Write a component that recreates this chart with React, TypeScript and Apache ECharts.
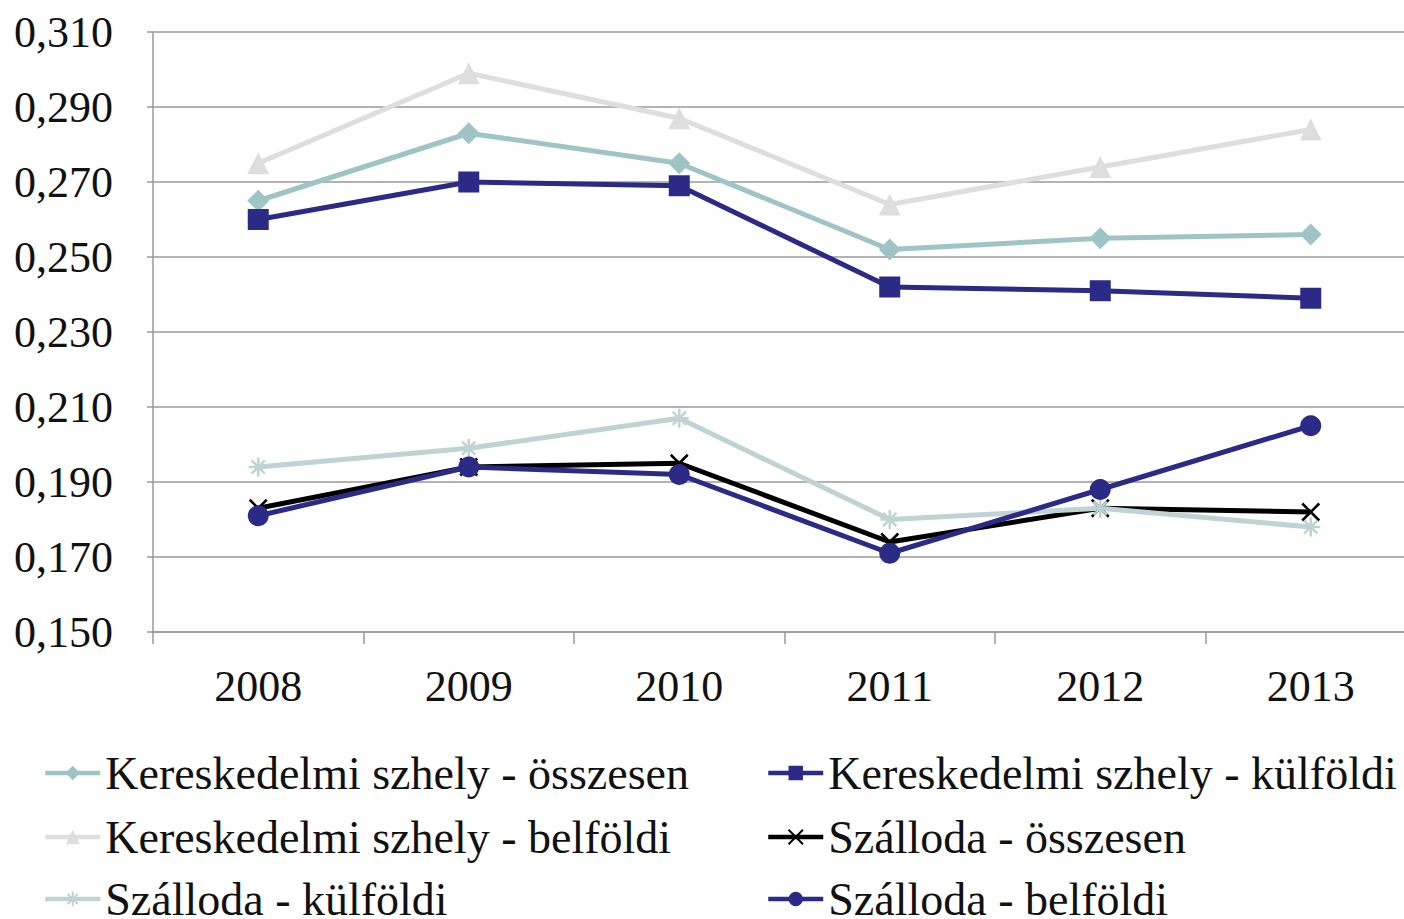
import React, { useEffect, useRef } from "react";
import * as echarts from "echarts";

const years = ["2008", "2009", "2010", "2011", "2012", "2013"];
const kerOsszesen = [0.265, 0.283, 0.275, 0.252, 0.255, 0.256];
const kerKulfoldi = [0.26, 0.27, 0.269, 0.242, 0.241, 0.239];
const kerBelfoldi = [0.275, 0.299, 0.287, 0.264, 0.274, 0.284];
const szalOsszesen = [0.183, 0.194, 0.195, 0.174, 0.183, 0.182];
const szalKulfoldi = [0.194, 0.199, 0.207, 0.18, 0.183, 0.178];
const szalBelfoldi = [0.181, 0.194, 0.192, 0.171, 0.188, 0.205];

const names = [
  "Kereskedelmi szhely - összesen",
  "Kereskedelmi szhely - külföldi",
  "Kereskedelmi szhely - belföldi",
  "Szálloda - összesen",
  "Szálloda - külföldi",
  "Szálloda - belföldi",
];

const FONT = "'Liberation Serif', 'DejaVu Serif', serif";
const CROSS = "path://M0,0 L10,10 M10,0 L0,10";
const STAR = "path://M5,0 L5,10 M0,5 L10,5 M1.5,1.5 L8.5,8.5 M8.5,1.5 L1.5,8.5";

export default function App() {
  const ref = useRef<HTMLDivElement>(null);
  useEffect(() => {
    if (!ref.current) return;
    const chart = echarts.init(ref.current, null, { renderer: "svg" });
    const lineSeries = (
      name: string,
      data: number[],
      color: string,
      symbol: string,
      symbolSize: number,
      stroke = false
    ) => ({
      name,
      type: "line",
      data,
      symbol,
      symbolSize,
      showSymbol: true,
      lineStyle: { color, width: 5 },
      itemStyle: stroke
        ? { color: "rgba(0,0,0,0)", borderColor: color, borderWidth: 2.5 }
        : { color, borderWidth: 0 },
      emphasis: { disabled: true },
    });
    const legendItem = (name: string, left: number, top: number) => ({
      orient: "horizontal",
      left,
      top,
      itemWidth: 55,
      itemHeight: 18,
      itemGap: 0,
      data: [name],
      lineStyle: { width: 4.5 },
      textStyle: { fontFamily: FONT, fontSize: 46, color: "#111", lineHeight: 46 },
      selectedMode: false,
    });
    chart.setOption({
      animation: false,
      backgroundColor: "#fff",
      grid: { left: 153, right: 4, top: 32, bottom: 287, containLabel: false },
      legend: [
        legendItem(names[0], 38, 745),
        legendItem(names[2], 38, 809),
        legendItem(names[4], 38, 871),
        legendItem(names[1], 761, 745),
        legendItem(names[3], 761, 809),
        legendItem(names[5], 761, 871),
      ],
      xAxis: {
        type: "category",
        data: years,
        boundaryGap: true,
        axisLine: { lineStyle: { color: "#9a9a9a", width: 1.5 } },
        axisTick: { show: true, length: 12, lineStyle: { color: "#9a9a9a", width: 1.5 } },
        axisLabel: { fontFamily: FONT, fontSize: 44, color: "#111", margin: 32 },
      },
      yAxis: {
        type: "value",
        min: 0.15,
        max: 0.31,
        interval: 0.02,
        axisLine: { show: true, lineStyle: { color: "#9a9a9a", width: 1.5 } },
        axisTick: { show: true, length: 6, lineStyle: { color: "#9a9a9a", width: 1.5 } },
        splitLine: { lineStyle: { color: "#9a9a9a", width: 1.5 } },
        axisLabel: {
          fontFamily: FONT,
          fontSize: 44,
          color: "#111",
          margin: 40,
          formatter: (v: number) => v.toFixed(3).replace(".", ","),
        },
      },
      series: [
        lineSeries(names[0], kerOsszesen, "#9fc4c6", "diamond", 22),
        lineSeries(names[1], kerKulfoldi, "#2b2a86", "rect", 21),
        lineSeries(names[2], kerBelfoldi, "#dedede", "triangle", 22),
        lineSeries(names[3], szalOsszesen, "#000000", CROSS, 17, true),
        lineSeries(names[4], szalKulfoldi, "#bfd3d4", STAR, 19, true),
        lineSeries(names[5], szalBelfoldi, "#2b2a86", "circle", 21),
      ],
    });
    return () => chart.dispose();
  }, []);
  return (
    <div
      style={{
        position: "fixed",
        left: 0,
        top: 0,
        width: 1404,
        height: 919,
        overflow: "hidden",
        background: "#fff",
      }}
    >
      <div ref={ref} style={{ width: 1420, height: 919 }} />
    </div>
  );
}
